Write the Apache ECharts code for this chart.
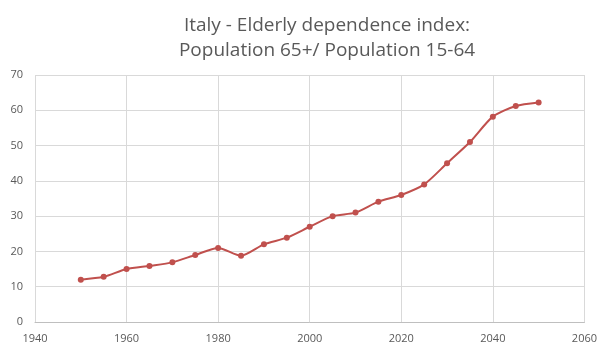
<!DOCTYPE html>
<html>
<head>
<meta charset="utf-8">
<script src="https://cdn.jsdelivr.net/npm/echarts@6/dist/echarts.min.js"></script>
<style>
    html, body { margin: 0; padding: 0; background: #fff; }
    #chart { width: 600px; height: 346px; }
</style>
</head>
<body>
<div id="chart"></div>
<script>
const titleLines = ['Italy - Elderly dependence index:', 'Population 65+/ Population 15-64'];
const years = [1950, 1955, 1960, 1965, 1970, 1975, 1980, 1985, 1990, 1995, 2000,
               2005, 2010, 2015, 2020, 2025, 2030, 2035, 2040, 2045, 2050];
const ratio = [12, 12.8, 15, 15.9, 16.9, 19, 21, 18.8, 22, 23.9, 27,
               30, 31, 34.1, 36, 39, 45, 51, 58.2, 61.2, 62.2];
const xRange = [1940, 2060];
const yRange = [0, 70];

(function() {
    const chart = echarts.init(document.getElementById('chart'));
    const labelFont = { color: '#595959', fontSize: 11, fontFamily: 'Open Sans' };

    chart.setOption({
        animation: false,
        title: {
            text: titleLines.join('\n'),
            left: 322,
            top: 8,
            textAlign: 'center',
            textStyle: {
                color: '#595959', fontSize: 19, fontWeight: 'normal',
                fontFamily: 'Open Sans', lineHeight: 25
            }
        },
        grid: { left: 35, right: 15, top: 75, bottom: 24 },
        xAxis: {
            type: 'value',
            min: xRange[0], max: xRange[1], interval: 20,
            axisLine: { show: true, lineStyle: { color: '#bfbfbf' } },
            axisTick: { show: false },
            axisLabel: Object.assign({ margin: 11, formatter: v => String(v) }, labelFont),
            splitLine: { show: true, lineStyle: { color: '#d9d9d9' } }
        },
        yAxis: {
            type: 'value',
            min: yRange[0], max: yRange[1], interval: 10,
            axisLine: { show: false },
            axisTick: { show: false },
            axisLabel: Object.assign({ margin: 12 }, labelFont),
            splitLine: { show: true, lineStyle: { color: '#d9d9d9' } }
        },
        series: [{
            type: 'line',
            data: years.map((y, i) => [y, ratio[i]]),
            smooth: 0.25,
            symbol: 'circle',
            symbolSize: 6,
            itemStyle: { color: '#c0504d' },
            lineStyle: { color: '#c0504d', width: 2 }
        }]
    });
})();
</script>
</body>
</html>
